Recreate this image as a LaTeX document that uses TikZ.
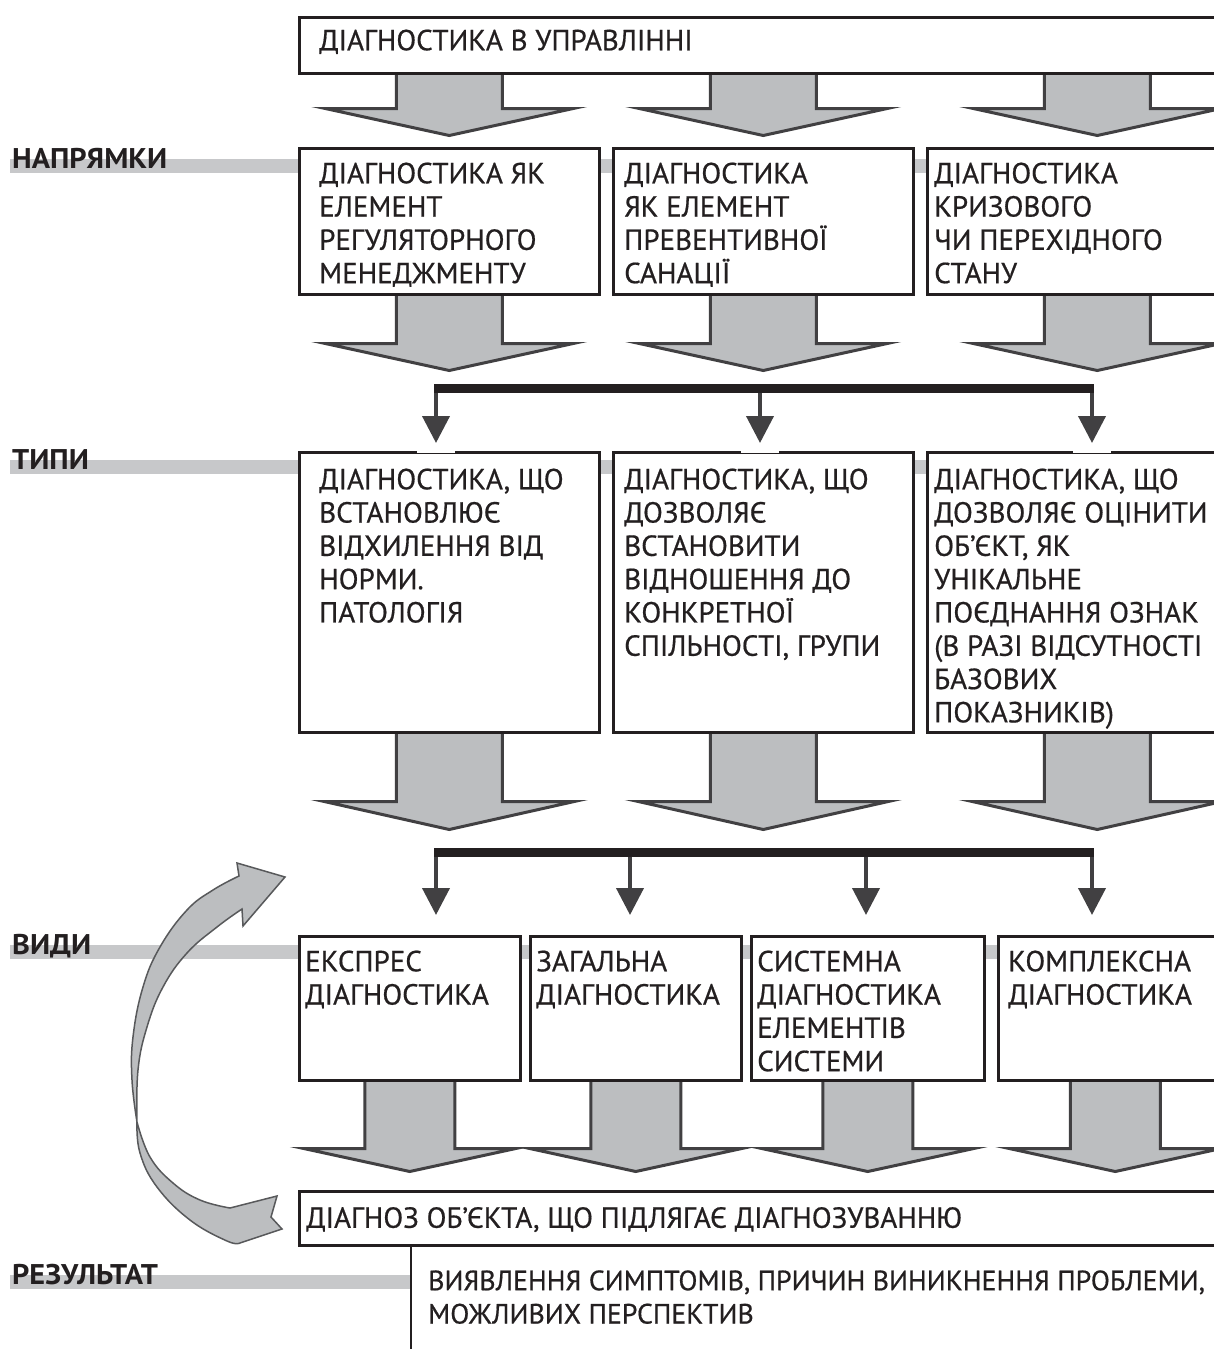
\documentclass[tikz,border=0pt]{standalone}
\usepackage{fontspec}
\setmainfont{PT Sans}
\newfontfamily\boxfont{PT Sans}[FakeBold=0.6]
\newfontfamily\labfont{PT Sans}[FakeStretch=1.06]
\usetikzlibrary{arrows.meta,calc,backgrounds}
\definecolor{ink}{HTML}{231F20}
\definecolor{arrgray}{HTML}{BCBEC0}
\definecolor{arredge}{HTML}{414042}
\definecolor{bandgray}{HTML}{C7C8CA}
\definecolor{curvedge}{HTML}{58595B}
% block arrow: start, shaft half width, head half width, shaft length, head length
\newcommand{\blk}[5]{\filldraw[blockarr] ($#1+(-#2,0)$) -- ++(0,#4) -- ++(#2-#3,0) -- ($#1+(0,#4+#5)$) -- ($#1+(#3,#4)$) -- ++(#2-#3,0) -- ($#1+(#2,0)$);}
\newcommand{\txt}[3]{\parbox[b][#2pt][t]{#1pt}{\raggedright\strut #3}}
\begin{document}
\begin{tikzpicture}[x=1pt,y=-1pt,
  box/.style={draw=ink,line width=2.5pt,fill=white,anchor=north west,inner xsep=11pt,inner ysep=11.7pt,font=\boxfont\fontsize{29}{33.3}\selectfont,text=ink},
  restxt/.style={anchor=north west,inner xsep=17pt,inner ysep=22.7pt,font=\boxfont\fontsize{27.9}{33.3}\selectfont,text=ink},
  lab/.style={anchor=base west,inner sep=0pt,font=\labfont\bfseries\fontsize{28.5}{30}\selectfont,text=ink},
  band/.style={draw=bandgray,line width=14pt},
  blockarr/.style={fill=arrgray,draw=arredge,line width=3pt},
  bar/.style={draw=ink,line width=9pt},
  drop/.style={draw=arredge,line width=4pt,-{Triangle[width=27pt,length=27pt]}},
  gap/.style={draw=white,line width=4pt},
  curv/.style={fill=arrgray,draw=curvedge,line width=1.5pt}]
\useasboundingbox (0,0) rectangle (1214,1349);
\clip (0,0) rectangle (1214,1349);

\node[box,inner xsep=20pt,inner ysep=9.7pt] (title) at (298,16) {\txt{960}{36.6}{ДІАГНОСТИКА В УПРАВЛІННІ}};

% napryamky
\node[box,inner xsep=20pt] (n1) at (298,147) {\txt{260}{122.6}{ДІАГНОСТИКА ЯК\\ЕЛЕМЕНТ\\РЕГУЛЯТОРНОГО\\МЕНЕДЖМЕНТУ}};
\node[box] (n2) at (612,147) {\txt{278}{122.6}{ДІАГНОСТИКА\\ЯК ЕЛЕМЕНТ\\ПРЕВЕНТИВНОЇ\\САНАЦІЇ}};
\node[box,inner xsep=7pt] (n3) at (926,147) {\txt{326}{122.6}{ДІАГНОСТИКА\\КРИЗОВОГО\\ЧИ ПЕРЕХІДНОГО\\СТАНУ}};

% typy
\node[box,inner xsep=20pt,inner ysep=13.7pt] (t1) at (298,451) {\txt{260}{252.6}{ДІАГНОСТИКА, ЩО\\ВСТАНОВЛЮЄ\\ВІДХИЛЕННЯ ВІД\\НОРМИ.\\ПАТОЛОГІЯ}};
\node[box,inner ysep=13.7pt] (t2) at (612,451) {\txt{278}{252.6}{ДІАГНОСТИКА, ЩО\\ДОЗВОЛЯЄ\\ВСТАНОВИТИ\\ВІДНОШЕННЯ ДО\\КОНКРЕТНОЇ\\СПІЛЬНОСТІ, ГРУПИ}};
\node[box,inner xsep=7pt,inner ysep=13.7pt] (t3) at (926,451) {\txt{326}{252.6}{ДІАГНОСТИКА, ЩО\\ДОЗВОЛЯЄ ОЦІНИТИ\\ОБ’ЄКТ, ЯК\\УНІКАЛЬНЕ\\ПОЄДНАННЯ ОЗНАК\\(В РАЗІ ВІДСУТНОСТІ\\БАЗОВИХ\\ПОКАЗНИКІВ)}};

% vydy
\node[box,inner xsep=6pt] (v1) at (298,935) {\txt{209}{120.6}{ЕКСПРЕС\\ДІАГНОСТИКА}};
\node[box,inner xsep=6pt] (v2) at (529,935) {\txt{199}{120.6}{ЗАГАЛЬНА\\ДІАГНОСТИКА}};
\node[box,inner xsep=6pt] (v3) at (750,935) {\txt{221}{120.6}{СИСТЕМНА\\ДІАГНОСТИКА\\ЕЛЕМЕНТІВ\\СИСТЕМИ}};
\node[box,inner xsep=10pt] (v4) at (997,935) {\txt{214}{120.6}{КОМПЛЕКСНА\\ДІАГНОСТИКА}};

% rezultat
\node[box,inner xsep=7pt,inner ysep=13.2pt] (diag) at (298,1190) {\txt{986}{27.6}{ДІАГНОЗ ОБ’ЄКТА, ЩО ПІДЛЯГАЄ ДІАГНОЗУВАННЮ}};
\node[restxt] (res) at (411,1244) {\parbox[t]{790pt}{\raggedright\strut ВИЯВЛЕННЯ СИМПТОМІВ, ПРИЧИН ВИНИКНЕННЯ ПРОБЛЕМИ,\\МОЖЛИВИХ ПЕРСПЕКТИВ}};
\coordinate (rbot) at (0,1349);
\draw[draw=ink,line width=2.5pt] (res.north west) -- (res.west |- rbot);

\node[lab] (l1) at (12,168) {НАПРЯМКИ};
\node[lab] (l2) at (12,469) {ТИПИ};
\node[lab] (l3) at (12,954) {ВИДИ};
\node[lab] (l4) at (12,1284) {РЕЗУЛЬТАТ};

\begin{pgfonlayer}{background}
\draw[band] ([xshift=-2pt,yshift=2pt]l1.base west) -- ++(1204,0);
\draw[band] ([xshift=-2pt,yshift=2pt]l2.base west) -- ++(1204,0);
\draw[band] ([xshift=-2pt,yshift=2pt]l3.base west) -- ++(1204,0);
\draw[band] ([xshift=-2pt,yshift=2pt]l4.base west) -- ([yshift=2pt]l4.base west -| res.west);
\blk{(n1.north |- title.south)}{53}{124}{34}{27}
\blk{(n2.north |- title.south)}{53}{124}{34}{27}
\blk{(n3.north |- title.south)}{53}{124}{34}{27}
\blk{(n1.south)}{53}{124}{48}{27}
\blk{(n2.south)}{53}{124}{48}{27}
\blk{(n3.south)}{53}{124}{48}{27}
\blk{(t1.south)}{53}{125}{68}{28}
\blk{(t2.south)}{53}{125}{68}{28}
\blk{(t3.south)}{53}{125}{68}{28}
\blk{(v1.south)}{45}{106}{67}{23}
\blk{(v2.south)}{45}{106}{67}{23}
\blk{(v3.south)}{45}{106}{67}{23}
\blk{(v4.south)}{45}{106}{67}{23}
\end{pgfonlayer}

% first bar
\coordinate (k1) at (436,388);
\coordinate (k2) at (760,388);
\coordinate (k3) at (1092,388);
\draw[drop,shorten >=8pt] (k1) -- (k1 |- t1.north);
\draw[drop,shorten >=8pt] (k2) -- (k2 |- t2.north);
\draw[drop,shorten >=8pt] (k3) -- (k3 |- t3.north);
\draw[bar] ([xshift=-2pt]k1) -- ([xshift=2pt]k3);
\draw[gap] ($(k1 |- t1.north)+(-19,0)$) -- ++(38,0);
\draw[gap] ($(k2 |- t2.north)+(-19,0)$) -- ++(38,0);
\draw[gap] ($(k3 |- t3.north)+(-19,0)$) -- ++(38,0);

% second bar
\coordinate (m1) at (436,852);
\coordinate (m2) at (630,852);
\coordinate (m3) at (866,852);
\coordinate (m4) at (1092,852);
\draw[drop,shorten >=20pt] (m1) -- (m1 |- v1.north);
\draw[drop,shorten >=20pt] (m2) -- (m2 |- v2.north);
\draw[drop,shorten >=20pt] (m3) -- (m3 |- v3.north);
\draw[drop,shorten >=20pt] (m4) -- (m4 |- v4.north);
\draw[bar] ([xshift=-2pt]m1) -- ([xshift=2pt]m4);

% feedback arrow
\filldraw[curv] plot[smooth,tension=0.7] coordinates {(239,876) (213,890) (187,910) (160,947) (143,987) (133,1037) (132,1080) (137,1122)}
  -- plot[smooth,tension=0.7] coordinates {(137,1122) (140,1153) (157,1187) (190,1220) (227,1241) (240,1243)}
  -- (282,1229) -- (271,1217) -- (277,1196) -- (230,1208)
  -- plot[smooth,tension=0.7] coordinates {(230,1208) (200,1200) (173,1183) (150,1157) (137,1122)}
  -- plot[smooth,tension=0.7] coordinates {(137,1122) (138,1070) (147,1027) (163,987) (187,953) (217,927) (242,909)}
  -- (243,926) -- (285,877) -- (237,863) -- cycle;
\end{tikzpicture}
\end{document}
